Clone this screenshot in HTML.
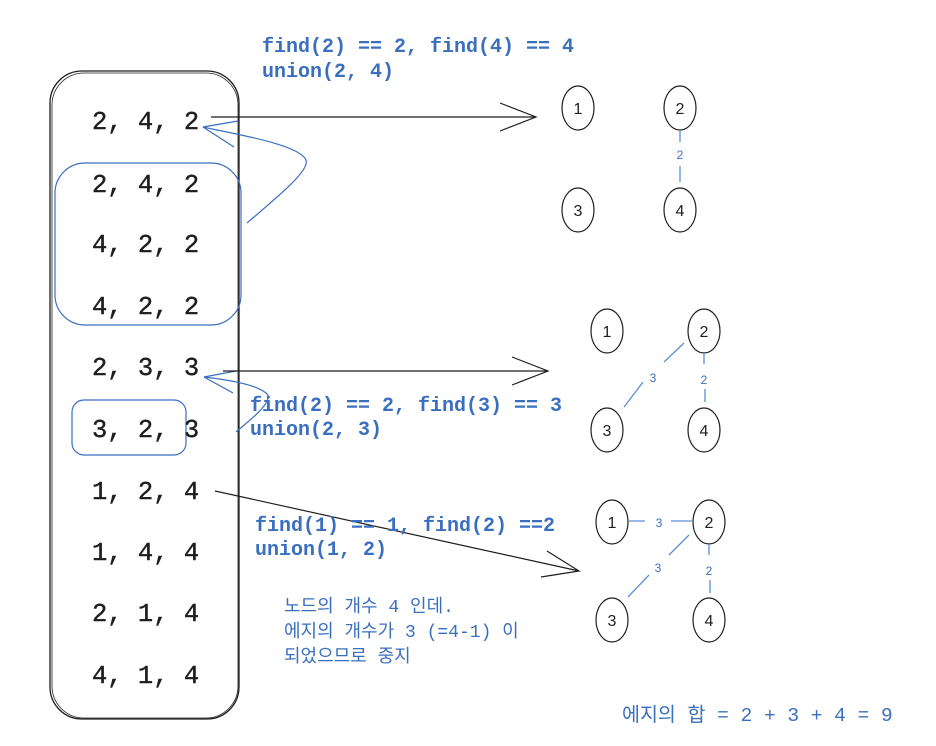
<!DOCTYPE html>
<html><head><meta charset="utf-8"><style>
html,body{margin:0;padding:0;background:#fff;}
svg{display:block;}
.k{font-family:"Liberation Mono",monospace;font-size:25.5px;fill:#1e1e1e;stroke:#1e1e1e;stroke-width:0.4;}
.b{font-family:"Liberation Mono",monospace;font-size:20px;font-weight:bold;fill:#3a6fc0;}
.h{font-family:"Liberation Mono","Noto Sans CJK KR",monospace;font-size:18px;fill:#3a6fc0;}
.s{font-family:"Liberation Mono","Noto Sans CJK KR",monospace;font-size:19.5px;fill:#3a6fc0;}
.n{font-family:"Liberation Sans",sans-serif;font-size:16px;fill:#1e1e1e;text-anchor:middle;}
.e{font-family:"Liberation Sans",sans-serif;font-size:12px;fill:#3a6fc0;text-anchor:middle;}
</style></head><body>
<svg width="936" height="746" viewBox="0 0 936 746" xmlns="http://www.w3.org/2000/svg">
<rect width="936" height="746" fill="#fff"/>
<rect x="50" y="71" width="189" height="648" rx="32" fill="none" stroke="#1e1e1e" stroke-width="1.3"/>
<rect x="52" y="73" width="186" height="645" rx="32" fill="none" stroke="#1e1e1e" stroke-width="0.8"/>
<rect x="55" y="163" width="186" height="162" rx="30" fill="none" stroke="#3a6fc0" stroke-width="1.2"/>
<rect x="72" y="400" width="114" height="55" rx="12" fill="none" stroke="#3a6fc0" stroke-width="1.2"/>
<g class="k">
<text x="92" y="129">2, 4, 2</text>
<text x="92" y="192">2, 4, 2</text>
<text x="92" y="252">4, 2, 2</text>
<text x="92" y="314">4, 2, 2</text>
<text x="92" y="375">2, 3, 3</text>
<text x="92" y="437">3, 2, 3</text>
<text x="92" y="499">1, 2, 4</text>
<text x="92" y="560">1, 4, 4</text>
<text x="92" y="621">2, 1, 4</text>
<text x="92" y="683">4, 1, 4</text>
</g>
<path d="M247 223 C280 195 310 170 306 160 C300 145 240 135 203 127" fill="none" stroke="#3a6fc0" stroke-width="1.2"/>
<path d="M203 127 L238 121 M203 127 L234 147" fill="none" stroke="#3a6fc0" stroke-width="1.2"/>
<path d="M236 432 C250 420 270 405 268 395 C260 385 230 380 204 377" fill="none" stroke="#3a6fc0" stroke-width="1.2"/>
<path d="M204 377 L236 371 M204 377 L233 393" fill="none" stroke="#3a6fc0" stroke-width="1.2"/>
<path d="M211 117 L536 117 M500 103 L536 117 L500 131" fill="none" stroke="#1e1e1e" stroke-width="1.2"/>
<path d="M223 371 L548 371 M512 357 L548 371 L512 385" fill="none" stroke="#1e1e1e" stroke-width="1.2"/>
<path d="M215 491 L579 571 M547 551 L579 571 L541 577" fill="none" stroke="#1e1e1e" stroke-width="1.2"/>
<text class="b" x="262" y="52">find(2) == 2, find(4) == 4</text>
<text class="b" x="262" y="77">union(2, 4)</text>
<text class="b" x="250" y="411">find(2) == 2, find(3) == 3</text>
<text class="b" x="250" y="435">union(2, 3)</text>
<text class="b" x="255" y="531">find(1) == 1, find(2) ==2</text>
<text class="b" x="255" y="555">union(1, 2)</text>
<text class="h" x="284" y="612">노드의 개수 4 인데.</text>
<text class="h" x="284" y="637">에지의 개수가 3 (=4-1) 이</text>
<text class="h" x="284" y="662">되었으므로 중지</text>
<text class="s" x="622" y="721">에지의 합 = 2 + 3 + 4 = 9</text>
<g fill="none" stroke="#1e1e1e" stroke-width="1.2">
<ellipse cx="578" cy="108" rx="16" ry="22"/><ellipse cx="680" cy="108" rx="16" ry="22"/>
<ellipse cx="578" cy="210" rx="16" ry="22"/><ellipse cx="680" cy="210" rx="16" ry="22"/>
<ellipse cx="607" cy="331" rx="16" ry="22"/><ellipse cx="704" cy="331" rx="16" ry="22"/>
<ellipse cx="607" cy="430" rx="16" ry="22"/><ellipse cx="704" cy="430" rx="16" ry="22"/>
<ellipse cx="612" cy="522" rx="16" ry="22"/><ellipse cx="709" cy="522" rx="16" ry="22"/>
<ellipse cx="612" cy="620" rx="16" ry="22"/><ellipse cx="709" cy="620" rx="16" ry="22"/>
</g>
<g class="n">
<text x="578" y="114">1</text><text x="680" y="114">2</text><text x="578" y="216">3</text><text x="680" y="216">4</text>
<text x="607" y="337">1</text><text x="704" y="337">2</text><text x="607" y="436">3</text><text x="704" y="436">4</text>
<text x="612" y="528">1</text><text x="709" y="528">2</text><text x="612" y="626">3</text><text x="709" y="626">4</text>
</g>
<g stroke="#5a8fd6" stroke-width="1.3" fill="none">
<path d="M680 130 L680 142 M680 166 L680 182"/>
<path d="M704 353 L704 364 M705 389 L705 402"/>
<path d="M684 343 L664 362 M643 382 L624 407"/>
<path d="M709 544 L709 555 M710 580 L710 593"/>
<path d="M629 521 L645 521 M671 521 L692 521"/>
<path d="M689 535 L669 555 M649 575 L628 597"/>
</g>
<g class="e">
<text x="680" y="159">2</text>
<text x="704" y="384">2</text><text x="653" y="382">3</text>
<text x="709" y="575">2</text><text x="659" y="527">3</text><text x="658" y="572">3</text>
</g>
</svg>
</body></html>
